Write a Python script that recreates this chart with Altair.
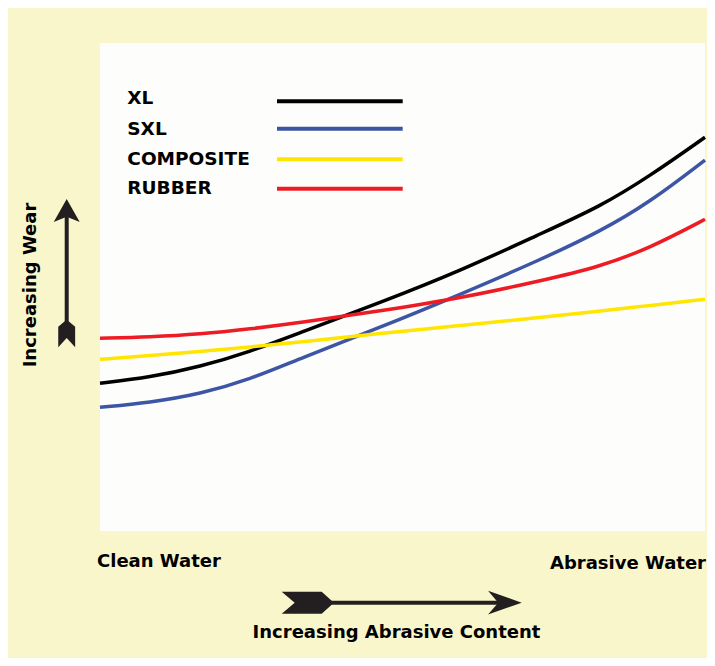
import altair as alt
import pandas as pd

# ---- data ----
x_pos = [0, 8.26, 16.53, 24.79, 33.06, 46.28, 59.50, 72.73, 82.64, 90.91, 100]
names = ["XL", "SXL", "COMPOSITE", "RUBBER"]
colors = ["#000000", "#3c56a5", "#ffe500", "#ed1c24"]
xl = [30.27, 31.50, 33.67, 36.74, 40.64, 46.78, 53.28, 60.86, 66.45, 72.75, 80.68]
sxl = [25.35, 26.33, 28.07, 31.05, 35.35, 41.70, 48.46, 55.53, 61.37, 67.40, 76.02]
composite = [35.18, 35.96, 36.78, 37.70, 38.73, 40.47, 42.11, 43.75, 45.08, 46.21, 47.48]
rubber = [39.49, 39.75, 40.31, 41.39, 42.68, 45.08, 47.68, 51.23, 54.16, 58.00, 63.87]
series_vals = [xl, sxl, composite, rubber]

x_labels = ["Clean Water", "Abrasive Water"]
x_title = "Increasing Abrasive Content"
y_title = "Increasing Wear"

rows = []
for n, vals in zip(names, series_vals):
    for x, v in zip(x_pos, vals):
        rows.append({"series": n, "x": x, "wear": v})
df = pd.DataFrame(rows)

FONT = "DejaVu Sans"
INK = "#231f20"
one = pd.DataFrame({"k": [0]})

color_scale = alt.Scale(domain=names, range=colors)

draw_order = ["COMPOSITE", "RUBBER", "SXL", "XL"]
lines = alt.Chart(df).mark_line(strokeWidth=3.5, interpolate="basis").encode(
    x=alt.X("x:Q", scale=alt.Scale(domain=[0, 100], nice=False), axis=None),
    y=alt.Y("wear:Q", scale=alt.Scale(domain=[0, 100], nice=False), axis=None),
    color=alt.Color("series:N", scale=color_scale, legend=None),
    order=alt.Order("ord:Q"),
).transform_calculate(
    ord="indexof(%s, datum.series)" % str(draw_order)
)

layers = [lines]

# custom legend
leg_text_y = [55.3, 86, 116, 145.3]
leg_line_y = [58.3, 85.7, 116.3, 145.7]
for n, c, ty, ly in zip(names, colors, leg_text_y, leg_line_y):
    layers.append(
        alt.Chart(one).mark_text(text=n, font=FONT, fontWeight="bold", fontSize=18.5,
                                 align="left", baseline="middle", color="#000000")
        .encode(x=alt.value(27.3), y=alt.value(ty))
    )
    layers.append(
        alt.Chart(one).mark_rule(strokeWidth=4, color=c)
        .encode(x=alt.value(177), x2=alt.value(302.7), y=alt.value(ly))
    )

# axis end labels and titles
layers.append(alt.Chart(one).mark_text(text=x_labels[0], font=FONT, fontWeight="bold", fontSize=18,
                                       align="left", baseline="middle", color="#000000")
              .encode(x=alt.value(-3), y=alt.value(519)))
layers.append(alt.Chart(one).mark_text(text=x_labels[1], font=FONT, fontWeight="bold", fontSize=18,
                                       align="right", baseline="middle", color="#000000")
              .encode(x=alt.value(606), y=alt.value(521)))
layers.append(alt.Chart(one).mark_text(text=x_title, font=FONT, fontWeight="bold", fontSize=18,
                                       align="center", baseline="middle", color="#000000")
              .encode(x=alt.value(296.5), y=alt.value(589.7)))
layers.append(alt.Chart(one).mark_text(text=y_title, font=FONT, fontWeight="bold", fontSize=18,
                                       align="center", baseline="middle", angle=270, color="#000000")
              .encode(x=alt.value(-69), y=alt.value(242)))

# horizontal arrow
layers.append(alt.Chart(one).mark_rule(strokeWidth=4, color=INK)
              .encode(x=alt.value(220), x2=alt.value(400), y=alt.value(559.7)))
layers.append(alt.Chart(one).mark_point(
    shape="M1,0 L-0.98,-0.7 L-0.38,0 L-0.98,0.7 Z", size=1156, filled=True,
    opacity=1, color=INK, strokeWidth=0)
    .encode(x=alt.value(404.7), y=alt.value(559.7)))
layers.append(alt.Chart(one).mark_point(
    shape="M-1,-0.44 L0.6,-0.44 L1,-0.08 L1,0.08 L0.6,0.44 L-1,0.44 L-0.48,0 Z", size=2500,
    filled=True, opacity=1, color=INK, strokeWidth=0)
    .encode(x=alt.value(206.7), y=alt.value(559.7)))

# vertical arrow
layers.append(alt.Chart(one).mark_rule(strokeWidth=4, color=INK)
              .encode(x=alt.value(-33.3), y=alt.value(172), y2=alt.value(285)))
layers.append(alt.Chart(one).mark_point(
    shape="M0,-1 L1,0.77 L0,0.36 L-1,0.77 Z", size=676, filled=True,
    opacity=1, color=INK, strokeWidth=0)
    .encode(x=alt.value(-33.3), y=alt.value(169)))
layers.append(alt.Chart(one).mark_point(
    shape="M-0.65,1 L-0.65,-0.58 L-0.15,-1 L0.15,-1 L0.65,-0.58 L0.65,1 L0,0.3 Z", size=676,
    filled=True, opacity=1, color=INK, strokeWidth=0)
    .encode(x=alt.value(-33.3), y=alt.value(291.2)))

chart = alt.layer(*layers).properties(
    width=605, height=488,
    autosize=alt.AutoSizeParams(type="none"),
    padding={"left": 92, "top": 35, "right": 2, "bottom": 127},
    background="#f9f6cc",
).configure_view(fill="#fdfdfb", stroke=None)

chart.save("out.html", embed_options={"renderer": "svg", "actions": False})
